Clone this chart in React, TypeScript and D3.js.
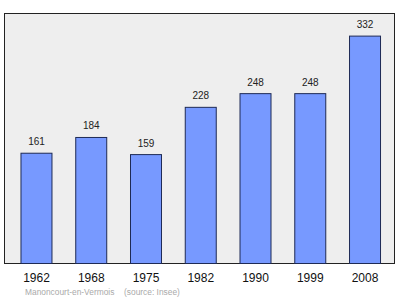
import React from "react";
import * as d3 from "d3";

const years = ["1962", "1968", "1975", "1982", "1990", "1999", "2008"];
const population = [161, 184, 159, 228, 248, 248, 332];
const footerName = "Manoncourt-en-Vermois";
const footerSource = "(source: Insee)";

export default function App() {
  const W = 400;
  const H = 299;
  const frame = { x0: 4.5, y0: 13.5, x1: 394.5, y1: 263.5 };
  const x = d3
    .scaleBand<string>()
    .domain(years)
    .range([9.1, 392.4])
    .paddingInner(0.434)
    .paddingOuter(0.217);
  const y = d3.scaleLinear().domain([0, 365]).range([frame.y1, frame.y0]);
  const font = "'Liberation Sans', Arial, sans-serif";
  return (
    <svg
      width={W}
      height={H}
      style={{ position: "absolute", left: 0, top: 0, display: "block" }}
      fontFamily={font}
    >
      <rect x={0} y={0} width={W} height={H} fill="#ffffff" />
      <rect
        x={frame.x0}
        y={frame.y0}
        width={frame.x1 - frame.x0}
        height={frame.y1 - frame.y0}
        fill="#eeeeee"
        stroke="#222222"
        strokeWidth={1}
      />
      {years.map((yr, i) => {
        const bx = x(yr)!;
        const bw = x.bandwidth();
        const top = y(population[i]);
        return (
          <g key={yr}>
            <rect
              x={bx}
              y={top}
              width={bw}
              height={frame.y1 - top}
              fill="#7799ff"
              stroke="#1e2a55"
              strokeWidth={1}
            />
            <text
              x={bx + bw / 2}
              y={top - 8}
              textAnchor="middle"
              fontSize={10}
              fill="#222222"
            >
              {population[i]}
            </text>
            <text
              x={bx + bw / 2}
              y={281.5}
              textAnchor="middle"
              fontSize={12}
              fill="#111111"
            >
              {yr}
            </text>
          </g>
        );
      })}
      <text x={25} y={295} fontSize={8.4} fill="#aaaaaa">
        {footerName}
      </text>
      <text x={124} y={295} fontSize={8.4} fill="#aaaaaa">
        {footerSource}
      </text>
    </svg>
  );
}
